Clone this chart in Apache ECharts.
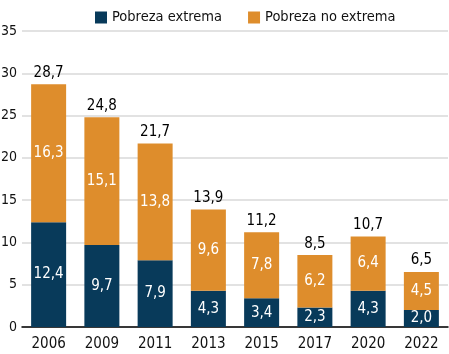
<!DOCTYPE html>
<html>
<head>
<meta charset="utf-8">
<script src="https://cdn.jsdelivr.net/npm/echarts@6/dist/echarts.min.js"></script>
<style>
  html, body { margin: 0; padding: 0; background: #fff; }
  #chart { width: 449px; height: 354px; }
</style>
</head>
<body>
<div id="chart"></div>
<script>
// datos
const years = ['2006', '2009', '2011', '2013', '2015', '2017', '2020', '2022'];
const extrema = [12.4, 9.7, 7.9, 4.3, 3.4, 2.3, 4.3, 2.0];
const noExtrema = [16.3, 15.1, 13.8, 9.6, 7.8, 6.2, 6.4, 4.5];
const totales = [28.7, 24.8, 21.7, 13.9, 11.2, 8.5, 10.7, 6.5];

const FONT = '"DejaVu Sans Condensed", "Liberation Sans Narrow", sans-serif';
const NAVY = '#083a5a';
const ORANGE = '#de8d2c';

function fmt(v) {
    return v.toFixed(1).replace('.', ',');
}

const chart = echarts.init(document.getElementById('chart'));

chart.setOption({
    animation: false,
    legend: {
        top: 5,
        left: 90,
        itemWidth: 12,
        itemHeight: 12,
        itemGap: 26,
        icon: 'rect',
        textStyle: { fontFamily: FONT, fontSize: 14.5, color: '#111' },
        data: ['Pobreza extrema', 'Pobreza no extrema']
    },
    grid: { left: 22, right: 1, top: 31, bottom: 27, outerBoundsMode: 'none' },
    xAxis: {
        type: 'category',
        data: years,
        axisLine: { lineStyle: { color: '#000', width: 1.5 } },
        axisTick: { show: false },
        axisLabel: { fontFamily: FONT, fontSize: 15, color: '#111', margin: 10 }
    },
    yAxis: {
        type: 'value',
        min: 0,
        max: 35,
        interval: 5,
        axisLine: { show: false },
        axisTick: { show: false },
        axisLabel: { fontFamily: FONT, fontSize: 14, color: '#111', margin: 5 },
        splitLine: { lineStyle: { color: '#d9d9d9', width: 1.5 } }
    },
    series: [
        {
            name: 'Pobreza extrema',
            type: 'bar',
            stack: 'total',
            barWidth: 35,
            itemStyle: { color: NAVY },
            label: {
                show: true,
                position: 'inside',
                color: '#fff',
                fontFamily: FONT,
                fontSize: 15,
                formatter: p => fmt(p.value)
            },
            data: extrema
        },
        {
            name: 'Pobreza no extrema',
            type: 'bar',
            stack: 'total',
            itemStyle: { color: ORANGE },
            label: {
                show: true,
                position: 'inside',
                color: '#fff',
                fontFamily: FONT,
                fontSize: 15,
                formatter: p => fmt(p.value)
            },
            data: noExtrema
        },
        {
            name: 'Total',
            type: 'bar',
            stack: 'total',
            itemStyle: { color: 'transparent' },
            label: {
                show: true,
                position: 'top',
                distance: 4,
                color: '#000',
                fontFamily: FONT,
                fontSize: 15,
                formatter: p => fmt(totales[p.dataIndex])
            },
            data: years.map(() => 0)
        }
    ]
});
</script>
</body>
</html>
